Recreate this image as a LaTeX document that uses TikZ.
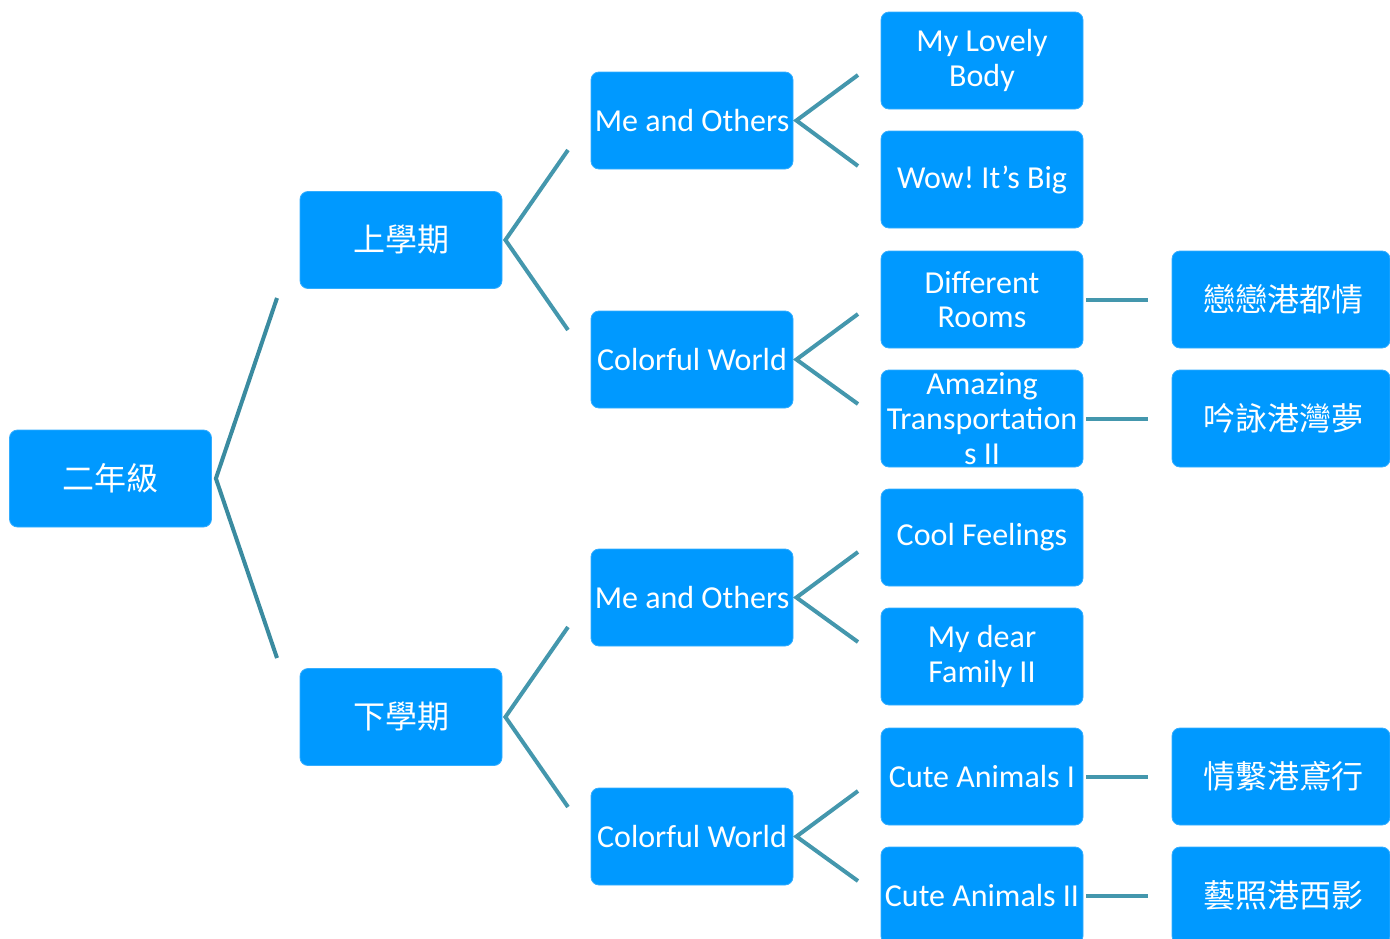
\documentclass[tikz,border=0pt]{standalone}
\usepackage{fontspec}
\setmainfont{Carlito}
\newfontfamily\cjk{Noto Sans CJK TC}
\definecolor{BoxBlue}{HTML}{0099FF}
\definecolor{EdgeBlue}{HTML}{33ADFF}
\definecolor{LinkTeal}{HTML}{4497AD}
\definecolor{RootTeal}{HTML}{3A8BA0}
\usepackage{tikz}
\usetikzlibrary{calc}
\frenchspacing

\begin{document}
\begin{tikzpicture}[x=0.75pt,y=-0.75pt,
    box/.style={draw=EdgeBlue,line width=0.6pt,fill=BoxBlue,rounded corners=6pt,
                text=white,align=center,inner sep=0pt,
                minimum width=151.5pt,minimum height=72.75pt,
                font=\fontsize{24}{26}\selectfont},
    widebox/.style={box,minimum width=163.5pt,text width=163.5pt},
    fork/.style={draw=LinkTeal,line width=3pt},
    rootfork/.style={draw=RootTeal,line width=3pt}]
  \clip (0,0) rectangle (1390,939);

  % grade and terms
  \node[box] (grade) at (110.5,478.5) {\cjk 二年級};
  \node[box] (upper) at (401,240) {\cjk 上學期};
  \node[box] (lower) at (401,717) {\cjk 下學期};

  % themes
  \node[box] (up-me)    at (692,120.5) {Me and Others};
  \node[box] (up-world) at (692,359.5) {Colorful World};
  \node[box] (lo-me)    at (692,597.5) {Me and Others};
  \node[box] (lo-world) at (692,836.5) {Colorful World};

  % units
  \node[box] (body)      at (982,60.5)  {My Lovely\\Body};
  \node[box] (big)       at (982,179.5) {Wow! It’s Big};
  \node[box] (rooms)     at (982,299.5) {Different\\Rooms};
  \node[box] (transport) at (982,418.5) {Amazing\\Transportation\\s II};
  \node[box] (feelings)  at (982,537.5) {Cool Feelings};
  \node[box] (family)    at (982,656.5) {My dear\\Family II};
  \node[box] (animals1)  at (982,776.5) {Cute Animals I};
  \node[box] (animals2)  at (982,895.5) {Cute Animals II};

  % harbour projects
  \node[widebox] (port1) at (1281,299.5) {\hspace*{4pt}\cjk 戀戀港都情};
  \node[widebox] (port2) at (1281,418.5) {\hspace*{4pt}\cjk 吟詠港灣夢};
  \node[widebox] (port3) at (1281,776.5) {\hspace*{4pt}\cjk 情繫港鳶行};
  \node[widebox] (port4) at (1281,895.5) {\hspace*{4pt}\cjk 藝照港西影};

  % free ends of the forks
  \coordinate (grade-a) at (277,298);
  \coordinate (grade-b) at (277,658);
  \coordinate (upper-a) at (568,150);
  \coordinate (upper-b) at (568,330);
  \coordinate (lower-a) at (568,627);
  \coordinate (lower-b) at (568,807);
  \coordinate (up-me-a) at (858,75);
  \coordinate (up-me-b) at (858,166);
  \coordinate (up-world-a) at (858,314);
  \coordinate (up-world-b) at (858,404);
  \coordinate (lo-me-a) at (858,552);
  \coordinate (lo-me-b) at (858,642);
  \coordinate (lo-world-a) at (858,791);
  \coordinate (lo-world-b) at (858,881);
  \coordinate (rooms-e) at (1148,299.5);
  \coordinate (transport-e) at (1148,418.5);
  \coordinate (animals1-e) at (1148,776.5);
  \coordinate (animals2-e) at (1148,895.5);

  \draw[rootfork] (grade-a) -- ([xshift=3pt]grade.east) -- (grade-b);
  \draw[fork] (upper-a) -- ([xshift=2.25pt]upper.east) -- (upper-b);
  \draw[fork] (lower-a) -- ([xshift=2.25pt]lower.east) -- (lower-b);
  \draw[fork] (up-me-a) -- ([xshift=2.25pt]up-me.east) -- (up-me-b);
  \draw[fork] (up-world-a) -- ([xshift=2.25pt]up-world.east) -- (up-world-b);
  \draw[fork] (lo-me-a) -- ([xshift=2.25pt]lo-me.east) -- (lo-me-b);
  \draw[fork] (lo-world-a) -- ([xshift=2.25pt]lo-world.east) -- (lo-world-b);
  \draw[fork] ([xshift=2.25pt]rooms.east) -- (rooms-e);
  \draw[fork] ([xshift=2.25pt]transport.east) -- (transport-e);
  \draw[fork] ([xshift=2.25pt]animals1.east) -- (animals1-e);
  \draw[fork] ([xshift=2.25pt]animals2.east) -- (animals2-e);
\end{tikzpicture}
\end{document}
